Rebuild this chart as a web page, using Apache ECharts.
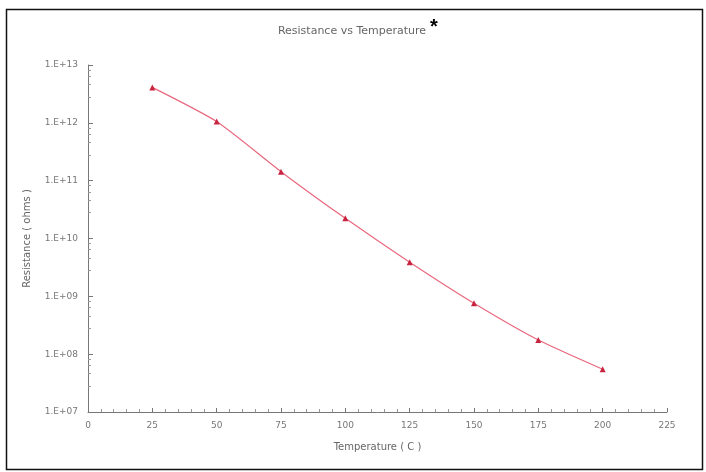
<!DOCTYPE html>
<html>
<head>
<meta charset="utf-8">
<script src="https://cdn.jsdelivr.net/npm/echarts@6/dist/echarts.min.js"></script>
<style>html,body{margin:0;padding:0;background:#fff;}#c{width:706px;height:472px;}</style>
</head>
<body>
<div id="c"></div>
<script>
var temperatures = [25, 50, 75, 100, 125, 150, 175, 200];
var resistances = [4.1e12, 1.05e12, 1.43e11, 2.23e10, 3.9e9, 7.6e8, 1.76e8, 5.5e7];
var titleText = 'Resistance vs Temperature';
var titleMark = '*';
var xName = 'Temperature ( C )';
var yName = 'Resistance ( ohms )';

var chart = echarts.init(document.getElementById('c'));
var font = 'DejaVu Sans';
chart.setOption({
  animation: false,
  backgroundColor: '#fff',
  title: {
    text: titleText,
    left: 347, top: 21, textAlign: 'center',
    textStyle: {fontSize: 11, fontWeight: 'normal', color: '#666', fontFamily: font}
  },
  graphic: [{
    type: 'rect', shape: {x: 6.5, y: 9.5, width: 696, height: 460},
    style: {fill: 'none', stroke: '#111', lineWidth: 1.5}, silent: true
  }, {
    type: 'text', left: 430, top: 17,
    style: {text: titleMark, fontSize: 20, fontWeight: 'bold', fill: '#000', fontFamily: 'Liberation Sans'}
  }],
  grid: {left: 88, right: 39, top: 65, bottom: 60},
  xAxis: {
    type: 'value', min: 0, max: 225, interval: 25,
    name: xName, nameLocation: 'middle', nameGap: 30,
    nameTextStyle: {fontSize: 10, color: '#666', fontFamily: font},
    axisLine: {lineStyle: {color: '#777', width: 1}},
    axisTick: {inside: true, length: 4, lineStyle: {color: '#777'}},
    minorTick: {show: true, splitNumber: 5, length: 3, lineStyle: {color: '#999'}},
    axisLabel: {fontSize: 9, color: '#777', margin: 9, fontFamily: font},
    splitLine: {show: false}
  },
  yAxis: {
    type: 'log', logBase: 10, min: 1e7, max: 1e13, splitNumber: 6,
    name: yName, nameLocation: 'middle', nameGap: 56,
    nameTextStyle: {fontSize: 10, color: '#666', fontFamily: font},
    axisLine: {show: true, lineStyle: {color: '#777', width: 1}},
    axisTick: {show: true, inside: true, length: 5, lineStyle: {color: '#777'}},
    minorTick: {show: true, splitNumber: 5, length: 3, lineStyle: {color: '#999'}},
    axisLabel: {
      fontSize: 9, color: '#777', margin: 10, fontFamily: font,
      formatter: function (v) {
        var e = Math.round(Math.log10(v));
        return '1.E+' + (e < 10 ? '0' + e : e);
      }
    },
    splitLine: {show: false}
  },
  series: [{
    type: 'line',
    data: temperatures.map(function (t, i) { return [t, resistances[i]]; }),
    smooth: 0.2,
    symbol: 'triangle', symbolSize: 6,
    lineStyle: {color: '#e8687e', width: 1.2},
    itemStyle: {color: '#c8243f'}
  }]
});
</script>
</body>
</html>
